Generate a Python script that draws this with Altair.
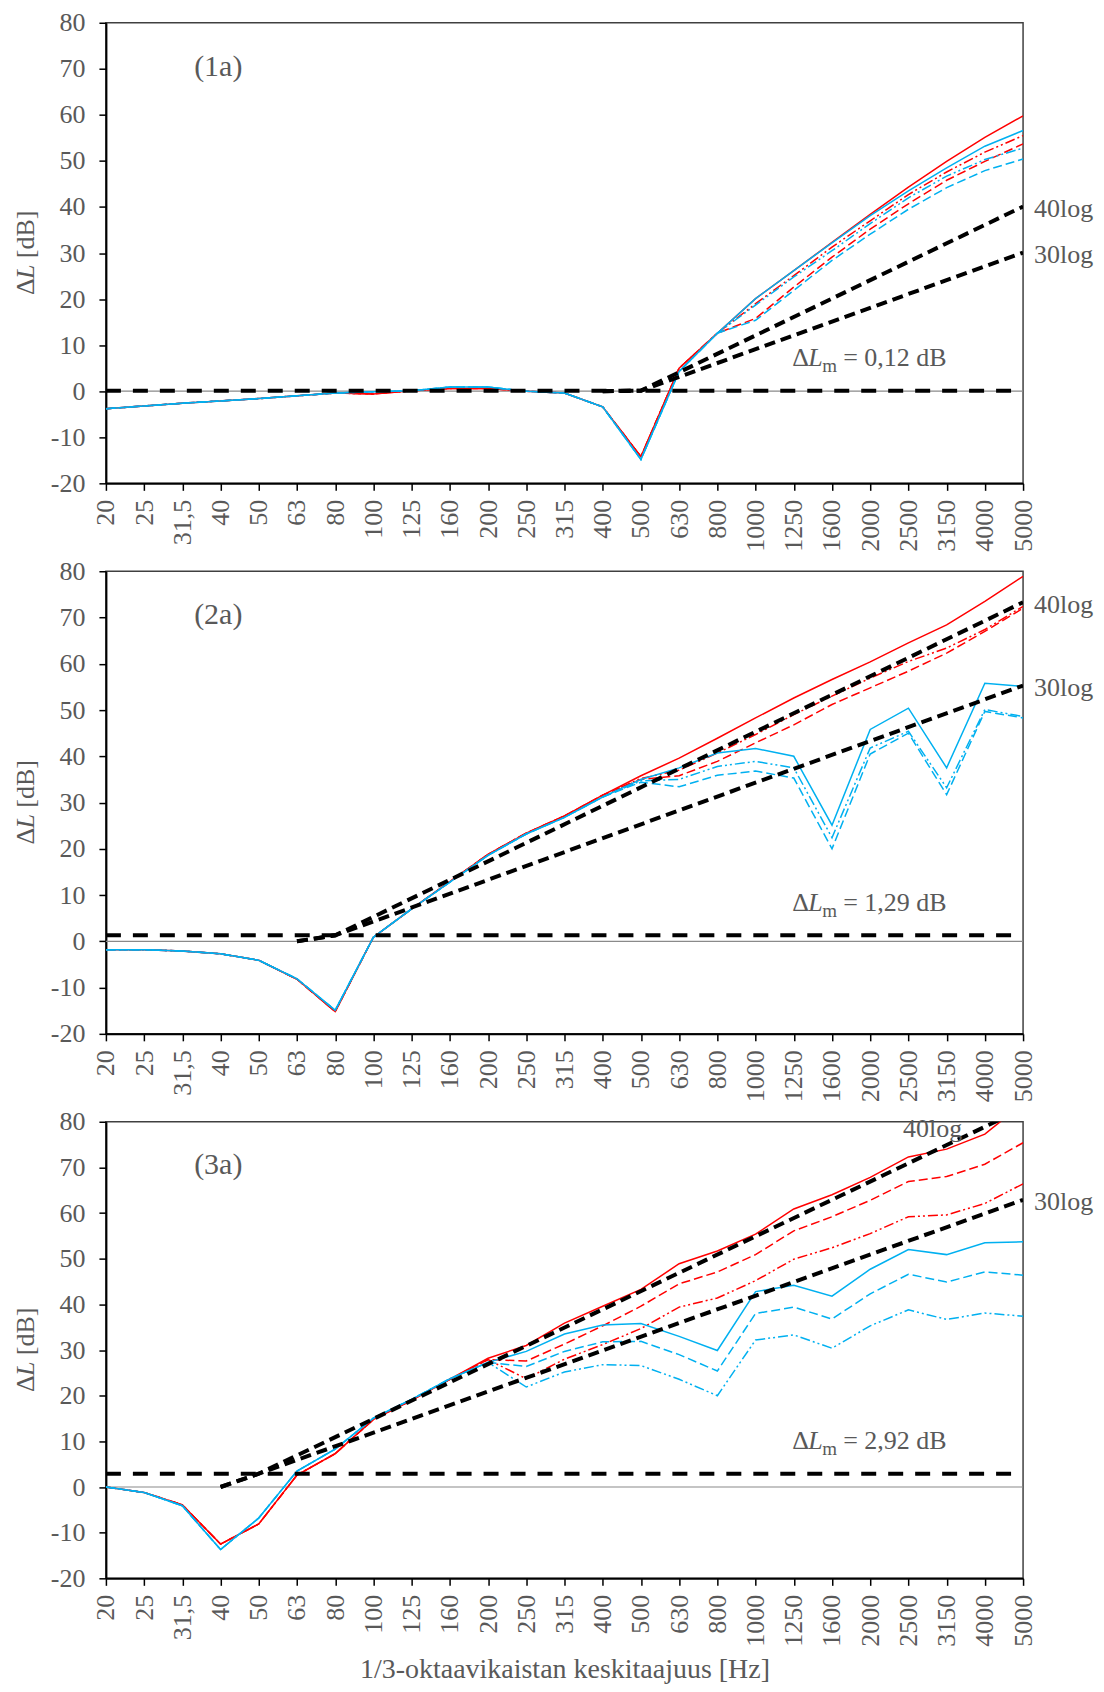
import altair as alt
import pandas as pd

# ---------------- data ----------------
FREQ_LABELS = ["20", "25", "31,5", "40", "50", "63", "80", "100", "125", "160", "200",
               "250", "315", "400", "500", "630", "800", "1000", "1250", "1600", "2000",
               "2500", "3150", "4000", "5000"]
IDX = list(range(len(FREQ_LABELS)))

# Panel (1a)
P1_RED_SOLID = [-3.8, -3.2, -2.6, -2.1, -1.6, -1.0, -0.4, -0.6, 0.1, 0.6, 0.6, 0.0, -0.4, -3.4, -14.2, 5.0, 12.6, 20.1, 26.2, 32.3, 38.4, 44.3, 49.9, 55.1, 59.8]
P1_RED_DASH = [-3.8, -3.2, -2.6, -2.1, -1.6, -1.0, -0.4, -0.6, 0.1, 0.6, 0.6, 0.0, -0.4, -3.4, -14.2, 5.0, 12.6, 15.8, 22.6, 29.1, 35.2, 40.7, 45.8, 49.9, 53.7]
P1_RED_DD = [-3.8, -3.2, -2.6, -2.1, -1.6, -1.0, -0.4, -0.6, 0.1, 0.6, 0.6, 0.0, -0.4, -3.4, -14.2, 5.0, 12.6, 19.0, 25.1, 31.3, 37.0, 42.7, 47.6, 51.9, 55.5]
P1_BLUE_SOLID = [-3.8, -3.2, -2.6, -2.1, -1.6, -1.0, -0.4, -0.1, 0.1, 0.9, 0.9, 0.0, -0.4, -3.4, -14.8, 4.3, 12.6, 20.1, 26.2, 32.2, 38.1, 43.5, 48.5, 53.2, 56.6]
P1_BLUE_DASH = [-3.8, -3.2, -2.6, -2.1, -1.6, -1.0, -0.4, -0.1, 0.1, 0.9, 0.9, 0.0, -0.4, -3.4, -14.8, 4.3, 12.6, 15.4, 21.9, 28.4, 34.1, 39.5, 44.2, 47.9, 50.4]
P1_BLUE_DD = [-3.8, -3.2, -2.6, -2.1, -1.6, -1.0, -0.4, -0.1, 0.1, 0.9, 0.9, 0.0, -0.4, -3.4, -14.8, 4.3, 12.6, 18.7, 24.8, 30.5, 36.4, 42.0, 46.7, 50.3, 52.8]
P1_DLM = 0.12
P1_LOG_X = [13, 14, 24]
P1_LOG40 = [0.0, 0.12, 40.1]
P1_LOG30 = [0.0, 0.12, 30.1]

# Panel (2a)
P2_RED_SOLID = [-1.8, -1.8, -2.1, -2.7, -4.1, -8.2, -15.2, 0.9, 7.0, 12.9, 18.8, 23.4, 27.1, 31.6, 35.8, 39.6, 43.9, 48.3, 52.6, 56.6, 60.4, 64.5, 68.4, 73.5, 78.9]
P2_RED_DASH = [-1.8, -1.8, -2.1, -2.7, -4.1, -8.2, -15.2, 0.9, 7.0, 12.9, 18.8, 23.4, 27.1, 31.6, 35.0, 35.8, 38.9, 42.9, 46.8, 51.2, 54.8, 58.4, 62.3, 67.0, 72.0]
P2_RED_DD = [-1.8, -1.8, -2.1, -2.7, -4.1, -8.2, -15.2, 0.9, 7.0, 12.9, 18.8, 23.4, 27.1, 31.6, 35.2, 37.0, 40.7, 44.7, 49.0, 53.0, 56.9, 60.5, 63.4, 67.4, 72.4]
P2_BLUE_SOLID = [-1.8, -1.8, -2.1, -2.7, -4.1, -8.1, -14.9, 0.9, 7.0, 12.8, 18.6, 23.2, 26.8, 31.2, 35.0, 37.5, 40.7, 41.7, 40.0, 25.1, 45.8, 50.4, 37.5, 55.8, 55.1]
P2_BLUE_DASH = [-1.8, -1.8, -2.1, -2.7, -4.1, -8.1, -14.9, 0.9, 7.0, 12.8, 18.6, 23.2, 26.8, 31.2, 34.4, 33.4, 35.9, 36.8, 35.3, 20.0, 40.5, 45.0, 31.7, 49.7, 48.3]
P2_BLUE_DD = [-1.8, -1.8, -2.1, -2.7, -4.1, -8.1, -14.9, 0.9, 7.0, 12.8, 18.6, 23.2, 26.8, 31.2, 34.7, 35.0, 37.8, 38.9, 37.5, 22.4, 41.8, 45.4, 33.2, 50.1, 48.6]
P2_DLM = 1.29
P2_LOG_X = [5, 6, 24]
P2_LOG40 = [0.0, 1.29, 73.3]
P2_LOG30 = [0.0, 1.29, 55.3]

# Panel (3a)
P3_RED_SOLID = [0.0, -1.2, -3.9, -12.5, -8.1, 2.6, 7.3, 14.8, 19.0, 23.6, 28.2, 31.0, 35.9, 39.6, 43.3, 48.9, 51.7, 55.4, 60.9, 64.0, 67.8, 72.3, 74.0, 77.3, 84.0]
P3_RED_DASH = [0.0, -1.2, -3.9, -12.5, -8.1, 2.6, 7.3, 14.8, 19.0, 23.6, 27.9, 27.6, 31.3, 35.3, 39.6, 44.5, 47.1, 50.9, 56.1, 59.2, 62.8, 66.9, 68.0, 70.7, 75.4]
P3_RED_DD = [0.0, -1.2, -3.9, -12.5, -8.1, 2.6, 7.3, 14.8, 19.0, 23.6, 27.9, 23.7, 28.0, 31.2, 34.7, 39.4, 41.4, 45.2, 49.9, 52.4, 55.5, 59.2, 59.6, 62.1, 66.4]
P3_BLUE_SOLID = [0.0, -1.2, -4.1, -13.7, -6.8, 3.5, 8.3, 15.1, 19.2, 23.7, 27.3, 29.7, 33.5, 35.5, 35.8, 33.0, 29.9, 42.8, 44.2, 41.8, 47.7, 52.0, 50.9, 53.5, 53.7]
P3_BLUE_DASH = [0.0, -1.2, -4.1, -13.7, -6.8, 3.5, 8.3, 15.1, 19.2, 23.7, 27.3, 26.4, 29.7, 31.8, 31.9, 29.0, 25.4, 38.0, 39.4, 36.8, 42.3, 46.6, 44.9, 47.1, 46.4]
P3_BLUE_DD = [0.0, -1.2, -4.1, -13.7, -6.8, 3.5, 8.3, 15.1, 19.2, 23.7, 27.3, 21.9, 25.2, 26.8, 26.6, 23.6, 20.0, 32.2, 33.3, 30.4, 35.3, 38.8, 36.7, 38.1, 37.4]
P3_DLM = 2.92
P3_LOG_X = [3, 4, 24]
P3_LOG40 = [0.0, 2.92, 82.9]
P3_LOG30 = [0.0, 2.92, 62.9]

PANEL_TAGS = ["(1a)", "(2a)", "(3a)"]
DLM_TEXTS = ["= 0,12 dB", "= 1,29 dB", "= 2,92 dB"]
X_TITLE = "1/3-oktaavikaistan keskitaajuus [Hz]"

# ---------------- style ----------------
FONT = "Liberation Serif"
TXT = "#595959"
RED = "#FF0000"
BLUE = "#00B0F0"
DASH = [9, 4]
DASHDOTDOT = [10, 3, 2, 3, 2, 3]
STYLES = [  # (color, dash) in drawing order
    (RED, None), (RED, DASH), (RED, DASHDOTDOT),
    (BLUE, None), (BLUE, DASH), (BLUE, DASHDOTDOT),
]

LABEL_EXPR = "[" + ",".join("'" + s + "'" for s in FREQ_LABELS) + "][datum.value]"


def make_panel(series, dlm, log_x, log40, log30, tag, dlm_text, height, title40_inside, x_title):
    x_axis = dict(values=IDX, labelExpr=LABEL_EXPR, labelAngle=270, labelAlign="right",
                  labelBaseline="middle", labelOverlap=False, labelFlush=False,
                  labelPadding=9, tickSize=7, grid=False)
    if x_title:
        x_axis.update(title=x_title, titlePadding=9, titleFontSize=28)
    else:
        x_axis.update(title=None)
    x_enc = alt.X("idx:Q", scale=alt.Scale(domain=[0, 24], nice=False, zero=False),
                  axis=alt.Axis(**x_axis))
    y_enc = alt.Y("v:Q", scale=alt.Scale(domain=[-20, 80], nice=False, zero=False),
                  axis=alt.Axis(values=list(range(-20, 81, 10)), labelExpr="'' + datum.value",
                                title=None, labelPadding=14, tickSize=7, grid=False,
                                labelOverlap=False, labelFlush=False))
    layers = []
    # zero line
    layers.append(alt.Chart(pd.DataFrame({"v": [0]})).mark_rule(color="#8a8a8a", strokeWidth=1.2)
                  .encode(y=y_enc))
    # measured curves
    for vals, (col, dash) in zip(series, STYLES):
        kw = dict(color=col, strokeWidth=1.5, clip=True)
        if dash:
            kw["strokeDash"] = dash
        layers.append(alt.Chart(pd.DataFrame({"idx": IDX, "v": vals})).mark_line(**kw)
                      .encode(x=x_enc, y=y_enc))
    # reference lines
    layers.append(alt.Chart(pd.DataFrame({"idx": [0, 24], "v": [dlm, dlm]}))
                  .mark_line(color="black", strokeWidth=4, strokeDash=[15, 12], clip=True)
                  .encode(x=x_enc, y=y_enc))
    for ys in (log40, log30):
        layers.append(alt.Chart(pd.DataFrame({"idx": log_x, "v": ys}))
                      .mark_line(color="black", strokeWidth=4, strokeDash=[11, 6], clip=True)
                      .encode(x=x_enc, y=y_enc))
    # panel tag
    layers.append(alt.Chart(pd.DataFrame({"idx": [2.94], "v": [70.5], "t": [tag]}))
                  .mark_text(font=FONT, fontSize=30, color=TXT, align="center", baseline="middle")
                  .encode(x=x_enc, y=y_enc, text="t:N"))
    # ΔLm annotation
    ann = pd.DataFrame({"idx": [17.96], "v": [dlm + 5.3]})
    pieces = [("Δ", 0, 0, 26, "normal"), ("L", 15.9, 0, 26, "italic"),
              ("m", 30.0, 6, 19, "normal"), (dlm_text, 51.0, 0, 26, "normal")]
    for txt, dx, dy, fs, st in pieces:
        layers.append(alt.Chart(ann).mark_text(font=FONT, fontSize=fs, fontStyle=st, color=TXT,
                                               align="left", baseline="alphabetic", dx=dx, dy=dy)
                      .encode(x=x_enc, y=y_enc, text=alt.value(txt)))
    # 40log / 30log labels
    if title40_inside:
        layers.append(alt.Chart(pd.DataFrame({"idx": [20.86], "v": [76.7]}))
                      .mark_text(font=FONT, fontSize=26, color=TXT, align="left", baseline="alphabetic")
                      .encode(x=x_enc, y=y_enc, text=alt.value("40log")))
    else:
        layers.append(alt.Chart(pd.DataFrame({"idx": [24], "v": [log40[-1] - 0.5]}))
                      .mark_text(font=FONT, fontSize=26, color=TXT, align="left", baseline="middle", dx=11)
                      .encode(x=x_enc, y=y_enc, text=alt.value("40log")))
    layers.append(alt.Chart(pd.DataFrame({"idx": [24], "v": [log30[-1] - 0.5]}))
                  .mark_text(font=FONT, fontSize=26, color=TXT, align="left", baseline="middle", dx=11)
                  .encode(x=x_enc, y=y_enc, text=alt.value("30log")))
    # y title  "ΔL [dB]" (rotated, italic L)
    ttl = pd.DataFrame({"v": [30]})
    for txt, dx, st in [("Δ", -42, "normal"), ("L", -26.1, "italic"), ("[dB]", -5.1, "normal")]:
        layers.append(alt.Chart(ttl).mark_text(font=FONT, fontSize=26, fontStyle=st, color=TXT,
                                               align="left", baseline="middle", angle=270, dx=dx)
                      .encode(x=alt.value(-80), y=y_enc, text=alt.value(txt)))
    return alt.layer(*layers).properties(width=918, height=height)


p1 = make_panel([P1_RED_SOLID, P1_RED_DASH, P1_RED_DD, P1_BLUE_SOLID, P1_BLUE_DASH, P1_BLUE_DD],
                P1_DLM, P1_LOG_X, P1_LOG40, P1_LOG30, PANEL_TAGS[0], DLM_TEXTS[0], 461, False, None)
p2 = make_panel([P2_RED_SOLID, P2_RED_DASH, P2_RED_DD, P2_BLUE_SOLID, P2_BLUE_DASH, P2_BLUE_DD],
                P2_DLM, P2_LOG_X, P2_LOG40, P2_LOG30, PANEL_TAGS[1], DLM_TEXTS[1], 463, False, None)
p3 = make_panel([P3_RED_SOLID, P3_RED_DASH, P3_RED_DD, P3_BLUE_SOLID, P3_BLUE_DASH, P3_BLUE_DD],
                P3_DLM, P3_LOG_X, P3_LOG40, P3_LOG30, PANEL_TAGS[2], DLM_TEXTS[2], 457, True, X_TITLE)

chart = (
    alt.vconcat(p1, p2, p3, spacing=5)
    .properties(padding={"left": 4, "top": 0, "right": 2, "bottom": 0})
    .configure_view(stroke="#404040", strokeWidth=1.5)
    .configure_axis(labelFont=FONT, labelFontSize=26, labelColor=TXT, titleFont=FONT,
                    titleFontSize=26, titleColor=TXT, titleFontWeight="normal",
                    domainColor="black", domainWidth=2, tickColor="black", tickWidth=1.5)
)

chart.save("out.html", embed_options={"renderer": "svg", "actions": False})
